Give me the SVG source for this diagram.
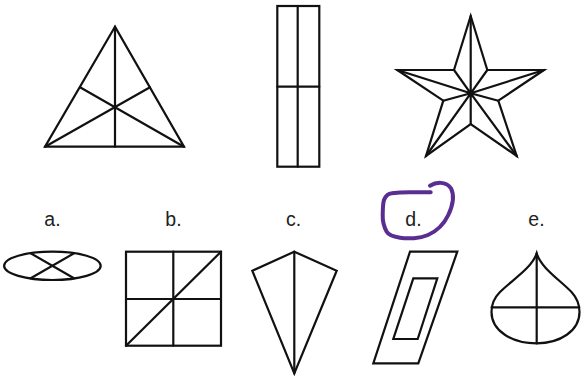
<svg xmlns="http://www.w3.org/2000/svg" width="581" height="378" viewBox="0 0 581 378">
<style>
.s{fill:none;stroke:#111;stroke-width:2.2;stroke-linejoin:miter;stroke-linecap:round}
.t{font-family:"Liberation Sans",Arial,sans-serif;font-size:19.5px;fill:#222;text-anchor:middle}
</style>
<rect width="581" height="378" fill="#fff"/>
<g id="triangle" class="s">
<polygon points="115,26.7 45,146.7 184,146.7"/>
<line x1="115" y1="26.7" x2="115" y2="146.7"/>
<line x1="45" y1="146.7" x2="150" y2="87.3"/>
<line x1="184" y1="146.7" x2="80" y2="87.3"/>
</g>
<g id="rectangle" class="s">
<rect x="277.3" y="6" width="42" height="160.7"/>
<line x1="297.7" y1="6" x2="297.7" y2="166.7"/>
<line x1="277.3" y1="86.7" x2="319.3" y2="86.7"/>
</g>
<g id="star" class="s">
<polygon points="470.7,16 487.3,70 544,70 498.3,100.7 516.7,156 470.7,124 426,156 443.3,100.7 397.3,70 454,70"/>
<path d="M470.7,93.3 L470.7,16 M470.7,93.3 L487.3,70 M470.7,93.3 L544,70 M470.7,93.3 L498.3,100.7 M470.7,93.3 L516.7,156 M470.7,93.3 L470.7,124 M470.7,93.3 L426,156 M470.7,93.3 L443.3,100.7 M470.7,93.3 L397.3,70 M470.7,93.3 L454,70"/>
</g>
<g id="label-a"><text class="t" x="52.5" y="225.5">a.</text></g>
<g id="label-b"><text class="t" x="173.5" y="225.5">b.</text></g>
<g id="label-c"><text class="t" x="293.5" y="225.5">c.</text></g>
<g id="label-d"><text class="t" x="413.5" y="225.5">d.</text></g>
<g id="label-e"><text class="t" x="536.5" y="225.5">e.</text></g>
<g id="ellipse-a" class="s">
<ellipse cx="52.4" cy="265.8" rx="48.3" ry="14.2"/>
<line x1="30.7" y1="253.3" x2="74" y2="278.3"/>
<line x1="74" y1="253.3" x2="30.7" y2="278.3"/>
</g>
<g id="square-b" class="s">
<rect x="126" y="251.7" width="95" height="94"/>
<line x1="173.3" y1="251.7" x2="173.3" y2="345.7"/>
<line x1="126" y1="299" x2="221" y2="299"/>
<line x1="126" y1="345.7" x2="221" y2="251.7"/>
</g>
<g id="kite-c" class="s">
<polygon points="294.3,251.7 336.7,270.7 294.3,373.3 252.3,270.7"/>
<line x1="294.3" y1="251.7" x2="294.3" y2="373.3"/>
</g>
<g id="parallelogram-d" class="s">
<polygon points="410,251.7 457.3,251.7 418.3,363.3 373.3,363.3"/>
<polygon points="413.3,278.3 437.3,278.3 417.7,339 393.3,339"/>
</g>
<g id="drop-e" class="s">
<path d="M536.7,253.3 C532,268 512,280 500,292 C494,298 491.5,305 491.5,312 C491.5,331 512,343.3 536.7,343.3 C560,343.3 579.5,331 579.5,312 C579.5,305 577,298 571.5,292 C560,280 541,268 536.7,253.3 Z"/>
<line x1="536.7" y1="253.3" x2="536.7" y2="343.3"/>
<line x1="491.5" y1="307.3" x2="579.3" y2="307.3"/>
</g>
<g id="circle-mark">
<path d="M430,185.7 C436,182 446,181 451,188.3 C455,196 452,207 448.3,215 C444,224 437,231 428,235 C420,238.5 408,239 400,237.7 C393,236.5 388,234 386.7,231.7 C383,225 382.5,220 382.7,215 C382.8,207 383,203 384,200 C386,195 389,193.5 391.7,193.3 C398,192.5 404,192.3 410,192.3 L430.7,192.3" fill="none" stroke="#5a2d91" stroke-width="4" stroke-linecap="round" stroke-linejoin="round"/>
</g>
</svg>
